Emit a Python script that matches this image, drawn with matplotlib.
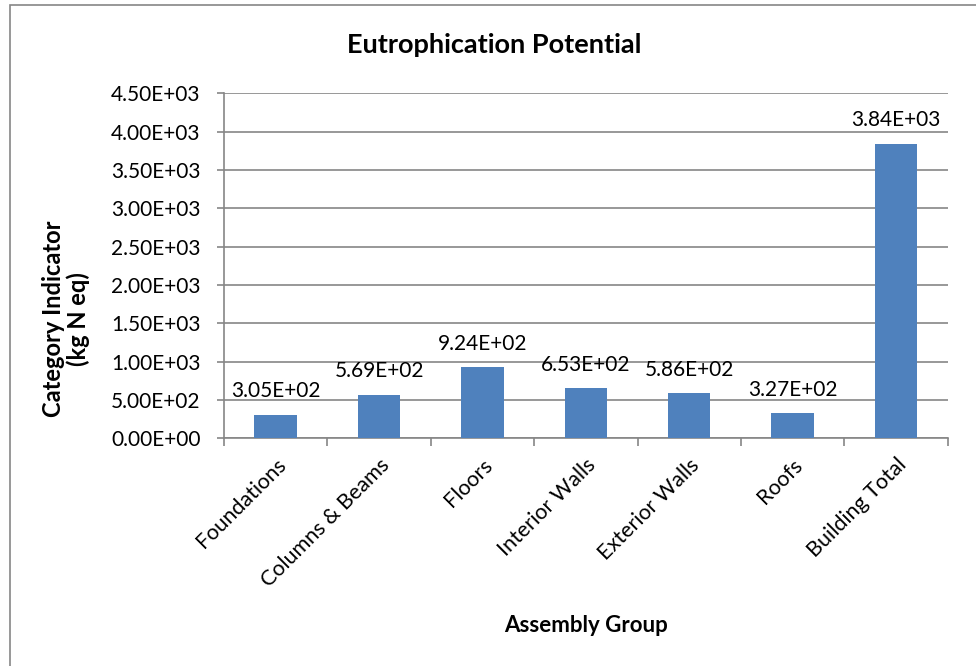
import matplotlib

matplotlib.use("Agg")
import matplotlib.pyplot as plt
from matplotlib.patches import Rectangle
from matplotlib.ticker import FuncFormatter, MultipleLocator

CATEGORIES = [
    "Foundations",
    "Columns & Beams",
    "Floors",
    "Interior Walls",
    "Exterior Walls",
    "Roofs",
    "Building Total",
]
VALUES = [305, 569, 924, 653, 586, 327, 3840]

BAR_COLOR = "#4F81BD"
GRID_COLOR = "#868686"
FONT = "Lato"


def sci_label(value: float) -> str:
    return f"{value:.2E}"


def main() -> None:
    plt.rcParams["font.family"] = [FONT, "DejaVu Sans"]
    fig = plt.figure(figsize=(9.76, 6.66), dpi=100)
    ax = fig.add_axes([0.2295, 0.342, 0.7415, 0.518])

    # chart frame around everything
    fig.patches.append(
        Rectangle((10 / 976, -0.05), 1.1, 1 - 5 / 666 + 0.05, transform=fig.transFigure,
                  fill=False, edgecolor=GRID_COLOR, linewidth=1.2)
    )

    x = list(range(len(CATEGORIES)))
    ax.bar(x, VALUES, width=0.41, color=BAR_COLOR, zorder=3)
    for xi, v in zip(x, VALUES):
        ax.annotate(sci_label(v), (xi, v), xytext=(0, 12.5), textcoords="offset points",
                    ha="center", va="baseline", fontsize=15, zorder=4)

    ax.set_xlim(-0.5, len(CATEGORIES) - 0.5)
    ax.set_ylim(0, 4500)
    ax.yaxis.set_major_locator(MultipleLocator(500))
    ax.yaxis.set_major_formatter(FuncFormatter(lambda v, _: sci_label(v)))
    ax.grid(axis="y", color=GRID_COLOR, linewidth=1.2, zorder=0)

    ax.set_xticks(x)
    ax.set_xticklabels(CATEGORIES, rotation=45, ha="right", rotation_mode="anchor", fontsize=15.5)
    ax.tick_params(axis="x", length=0, pad=12)
    ax.set_xticks([i + 0.5 for i in x[:-1]] + [-0.5, len(CATEGORIES) - 0.5], minor=True)
    ax.tick_params(axis="x", which="minor", length=6, color=GRID_COLOR, width=1.2)
    ax.tick_params(axis="y", length=5, color=GRID_COLOR, width=1.2, labelsize=15, pad=12)

    for side in ("top", "right"):
        ax.spines[side].set_visible(False)
    for side in ("left", "bottom"):
        ax.spines[side].set_color(GRID_COLOR)
        ax.spines[side].set_linewidth(1.2)

    fig.text(494 / 976, 1 - 45 / 666, "Eutrophication Potential", ha="center", va="center",
             fontsize=19.5, fontweight="bold")
    fig.text(586 / 976, 1 - 625 / 666, "Assembly Group", ha="center", va="center",
             fontsize=16, fontweight="bold")
    fig.text(66 / 976, 1 - 319 / 666, "Category Indicator\n(kg N eq)", ha="center", va="center",
             rotation=90, fontsize=17, fontweight="bold", linespacing=1.12)

    fig.savefig("out.png", dpi=100)
    plt.close(fig)


if __name__ == "__main__":
    main()
